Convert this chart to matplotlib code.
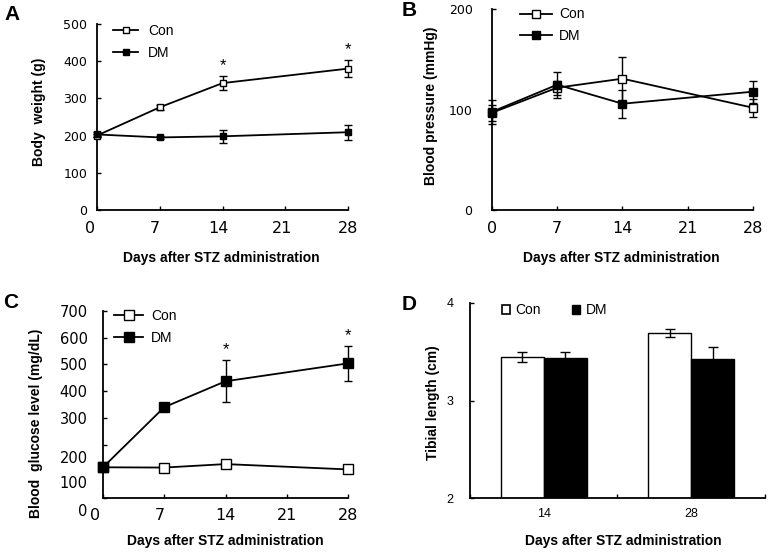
import matplotlib
matplotlib.use("Agg")
import matplotlib.pyplot as plt
import matplotlib.transforms as mtransforms
from matplotlib.patches import Patch

plt.rcParams["font.family"] = ["Liberation Sans", "DejaVu Sans"]

days = [0, 7, 14, 28]
day_ticks = [0, 7, 14, 21, 28]

# A: body weight (g)
bw_con = [200, 276, 341, 380]
bw_con_err = [5, 6, 19, 23]
bw_dm = [203, 195, 198, 209]
bw_dm_err = [6, 5, 17, 20]
bw_sig = [14, 28]

# B: blood pressure (mmHg)
bp_con = [97, 122, 131, 102]
bp_con_err = [8, 7, 22, 9]
bp_dm = [98, 125, 106, 118]
bp_dm_err = [12, 13, 14, 11]

# C: blood glucose (mg/dL)
glu_con = [115, 114, 127, 107]
glu_con_err = [3, 3, 3, 3]
glu_dm = [115, 340, 437, 504]
glu_dm_err = [4, 4, 79, 65]
glu_sig = [14, 28]

# D: tibial length (cm)
tib_groups = ["14", "28"]
tib_con = [3.446, 3.69]
tib_con_err = [0.05, 0.04]
tib_dm = [3.436, 3.43]
tib_dm_err = [0.065, 0.12]

fig = plt.figure(figsize=(7.71, 5.52), dpi=100)


def px_shift(dx, dy):
    return mtransforms.ScaledTranslation(dx / 100, dy / 100, fig.dpi_scale_trans)


def style(ax):
    for s in ["top", "right"]:
        ax.spines[s].set_visible(False)
    for s in ["left", "bottom"]:
        ax.spines[s].set_linewidth(1.3)
    ax.tick_params(direction="in", length=3, width=1)


def line_panel(ax, con, con_err, dm, dm_err, ms):
    ax.errorbar(days, con, yerr=con_err, fmt="none", ecolor="black",
                elinewidth=1, capsize=3, capthick=1, clip_on=False, zorder=3)
    ax.plot(days, con, color="black", lw=1.3, marker="s", ms=ms, mfc="white",
            mec="black", mew=1, clip_on=False, zorder=4, label="Con")
    ax.errorbar(days, dm, yerr=dm_err, fmt="none", ecolor="black",
                elinewidth=1, capsize=3, capthick=1, clip_on=False, zorder=5)
    ax.plot(days, dm, color="black", lw=1.3, marker="s", ms=ms, mfc="black",
            mec="black", mew=1, clip_on=False, zorder=6, label="DM")
    ax.set_xlim(0, 28)
    ax.set_xticks(day_ticks)
    ax.set_xticklabels([str(d) for d in day_ticks], family="DejaVu Sans", fontsize=11.5)
    style(ax)


def stars(ax, sig, xs, ys, errs):
    for d in sig:
        i = xs.index(d)
        ax.annotate("*", (d, ys[i] + errs[i]), xytext=(0, 2), textcoords="offset points",
                    ha="center", va="bottom", fontsize=12)


lab_kw = dict(fontsize=10, fontweight="bold")

# ---- A
axA = fig.add_axes([0.1258, 0.6196, 0.3256, 0.3370])
line_panel(axA, bw_con, bw_con_err, bw_dm, bw_dm_err, 5)
axA.set_ylim(0, 500)
axA.set_yticks(range(0, 501, 100))
axA.set_yticklabels([str(v) for v in range(0, 501, 100)], family="DejaVu Sans", fontsize=9)
axA.tick_params(axis="y", pad=7)
axA.tick_params(axis="x", pad=8)
stars(axA, bw_sig, days, bw_con, bw_con_err)
axA.set_ylabel("Body  weight (g)", **lab_kw)
axA.yaxis.set_label_coords(-0.203, 0.53)
axA.set_xlabel("Days after STZ administration", **lab_kw)
axA.xaxis.set_label_coords(0.494, -0.22)
axA.legend(loc="upper left", bbox_to_anchor=(0.064, 1.0), frameon=False, fontsize=10,
           borderaxespad=0, borderpad=0, handlelength=1.8, handletextpad=0.7,
           labelspacing=0.55)
for lab, dx in zip(axA.get_xticklabels(), [-7, -5, -4, -3, 0]):
    lab.set_transform(lab.get_transform() + px_shift(dx, 0))

# ---- B
axB = fig.add_axes([0.6381, 0.6196, 0.3385, 0.3632])
line_panel(axB, bp_con, bp_con_err, bp_dm, bp_dm_err, 5.5)
axB.set_ylim(0, 200)
axB.set_yticks([0, 100, 200])
axB.set_yticklabels(["0", "100", "200"], family="DejaVu Sans", fontsize=9)
axB.tick_params(axis="y", pad=14)
axB.tick_params(axis="x", pad=8)
axB.set_ylabel("Blood pressure (mmHg)", **lab_kw)
axB.yaxis.set_label_coords(-0.207, 0.52)
axB.set_xlabel("Days after STZ administration", **lab_kw)
axB.xaxis.set_label_coords(0.497, -0.205)
axB.legend(loc="upper left", bbox_to_anchor=(0.107, 1.01), frameon=False, fontsize=10,
           borderaxespad=0, borderpad=0, handlelength=2.3, handletextpad=0.5,
           labelspacing=0.55)

# ---- C
axC = fig.add_axes([0.1336, 0.0978, 0.3178, 0.3388])
line_panel(axC, glu_con, glu_con_err, glu_dm, glu_dm_err, 7)
axC.set_ylim(0, 700)
axC.set_yticks(range(0, 701, 100))
axC.set_yticklabels([str(v) for v in range(0, 701, 100)], family="DejaVu Sans", fontsize=10.5)
axC.tick_params(axis="y", pad=11)
axC.tick_params(axis="x", pad=7)
stars(axC, glu_sig, days, glu_dm, glu_dm_err)
axC.set_ylabel("Blood  glucose level (mg/dL)", **lab_kw)
axC.yaxis.set_label_coords(-0.245, 0.40)
axC.set_xlabel("Days after STZ administration", **lab_kw)
axC.xaxis.set_label_coords(0.498, -0.193)
axC.legend(loc="upper left", bbox_to_anchor=(0.045, 1.01), frameon=False, fontsize=10,
           borderaxespad=0, borderpad=0, handlelength=2.1, handletextpad=0.55,
           labelspacing=0.55)
for lab, dy in zip(axC.get_yticklabels(), [-12, -11, -12, 0, 0, 0, 0, 0]):
    lab.set_transform(lab.get_transform() + px_shift(0, dy))
for lab, dx in zip(axC.get_xticklabels(), [-8, -4, 0, 0, 0]):
    lab.set_transform(lab.get_transform() + px_shift(dx, 0))

# ---- D
axD = fig.add_axes([0.6096, 0.0978, 0.3826, 0.3533])
centers = [0.5, 1.5]
w = 0.29
axD.bar([c - w / 2 for c in centers], tib_con, width=w, color="white",
        edgecolor="black", lw=1, yerr=tib_con_err, capsize=3.5,
        error_kw=dict(elinewidth=1, capthick=1), label="Con")
axD.bar([c + w / 2 for c in centers], tib_dm, width=w, color="black",
        edgecolor="black", lw=1, yerr=tib_dm_err, capsize=3.5,
        error_kw=dict(elinewidth=1, capthick=1), label="DM")
axD.set_xlim(0, 2)
axD.set_ylim(2, 4)
axD.set_yticks([2, 3, 4])
axD.set_yticklabels(["2", "3", "4"], fontsize=9)
axD.set_xticks(centers)
axD.set_xticklabels(tib_groups, fontsize=9)
axD.set_xticks([0, 1, 2], minor=True)
style(axD)
axD.tick_params(axis="x", which="major", length=0, pad=7)
axD.tick_params(axis="x", which="minor", direction="in", length=3, width=1)
axD.tick_params(axis="y", pad=12)
axD.set_ylabel("Tibial length (cm)", **lab_kw)
axD.yaxis.set_label_coords(-0.102, 0.49)
axD.set_xlabel("Days after STZ administration", **lab_kw)
axD.xaxis.set_label_coords(0.519, -0.185)
handles = [Patch(facecolor="white", edgecolor="black", lw=1.2),
           Patch(facecolor="black", edgecolor="black")]
axD.legend(handles, ["Con", "DM"], loc="upper left", bbox_to_anchor=(0.108, 1.0),
           ncol=2, frameon=False, fontsize=10, borderaxespad=0, borderpad=0,
           handlelength=0.6, handleheight=0.6, handletextpad=0.4, columnspacing=2.2)

# panel letters
for letter, xp, yp in [("A", 4, 15), ("B", 402, 11), ("C", 3, 302), ("D", 402, 304)]:
    fig.text(xp / 771, 1 - yp / 552, letter, fontsize=15, fontweight="bold",
             ha="left", va="center")

fig.savefig("out.png", dpi=100)
